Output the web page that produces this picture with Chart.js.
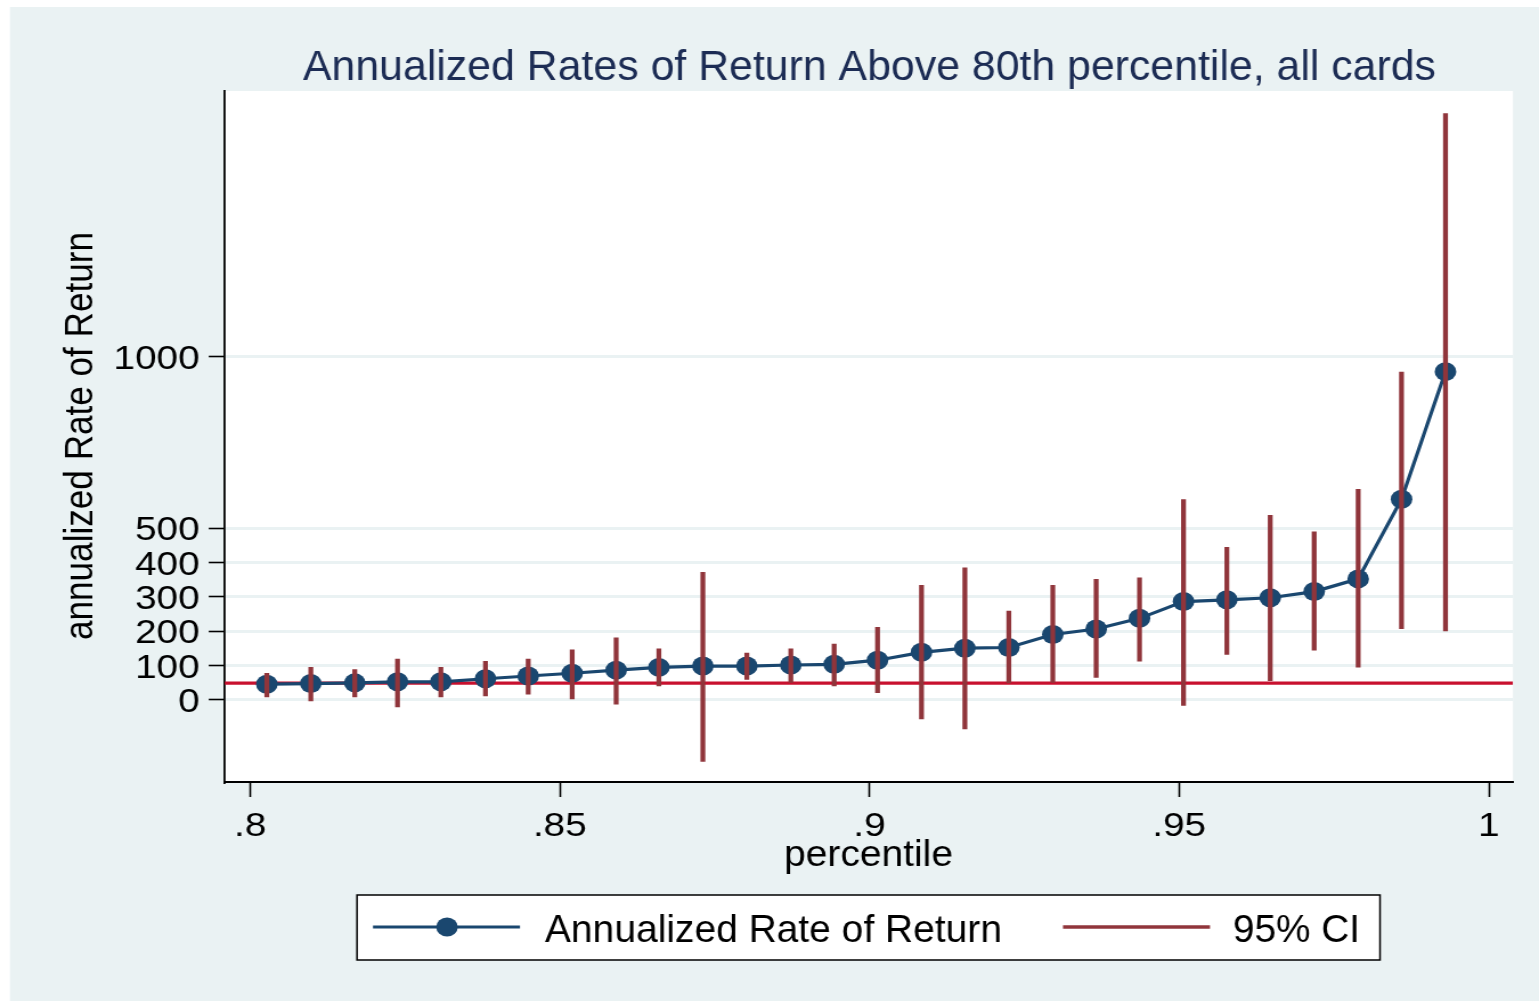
<!DOCTYPE html>
<html>
<head>
<meta charset="utf-8">
<script src="https://cdn.jsdelivr.net/npm/chart.js@4/dist/chart.umd.min.js"></script>
<style>
  html, body { margin: 0; padding: 0; background: #ffffff; overflow: hidden; }
  /* the drawing surface is laid out narrower and widened on screen */
  #chart { display: block; width: 1539px !important; height: 1001px !important; }
</style>
</head>
<body>
<canvas id="chart" width="1350" height="1001"></canvas>
<script>
// ---- data ----
const percentile = [0.8027, 0.8098, 0.8169, 0.8238, 0.8308, 0.8380, 0.8449, 0.8520, 0.8591, 0.8660,
                    0.8731, 0.8802, 0.8873, 0.8943, 0.9013, 0.9084, 0.9154, 0.9225, 0.9296, 0.9366,
                    0.9436, 0.9507, 0.9577, 0.9647, 0.9718, 0.9789, 0.9859, 0.9930];
const rateOfReturn = [45, 47, 49, 52, 52, 61, 69, 77, 86, 94,
                      98, 98, 101, 103, 115, 138, 150, 152, 190, 206,
                      237, 286, 291, 297, 315, 352, 584, 956];
const ciLower = [8, -4, 8, -21, 8, 11, 16, 2, -13, 40,
                 -180, 59, 50, 40, 20, -56, -85, 49, 50, 65,
                 112, -17, 132, 55, 144, 95, 207, 200];
const ciUpper = [77, 94, 88, 118, 94, 112, 118, 145, 180, 148,
                 371, 136, 148, 162, 211, 333, 384, 258, 333, 351,
                 355, 583, 444, 537, 489, 613, 955, 1708];
const referenceLevel = 48;
const xTickValues = [0.8, 0.85, 0.9, 0.95, 1];
const yTickValues = [0, 100, 200, 300, 400, 500, 1000];
const xRange = [0.7959, 1.0039];
const yRange = [-240, 1774];

const titleText = 'Annualized Rates of Return Above 80th percentile, all cards';
const xTitle = 'percentile';
const yTitle = 'annualized Rate of Return';
const legendLabels = ['Annualized Rate of Return', '95% CI'];

// ---- style ----
const FONT = '"Liberation Sans", Arial, Helvetica, sans-serif';
const BG = 'rgb(234,242,243)';
const GRID = 'rgb(234,242,243)';
const NAVY = 'rgb(26,71,111)';
const MAROON = 'rgb(144,53,59)';
const RED = 'rgb(200,16,46)';
const TITLE_COLOR = 'rgb(28,44,84)';
const MARKER_R = 9.5;

const canvas = document.getElementById('chart');
const K = 1539 / canvas.width;        // horizontal widening on screen
const sx = v => v / K;                // screen x -> drawing x

// text fitted to a given on-screen width
function fittedText(ctx, text, leftScreen, widthScreen, baseline, size, color) {
  ctx.save();
  ctx.font = size + 'px ' + FONT;
  ctx.fillStyle = color;
  ctx.textBaseline = 'alphabetic';
  ctx.textAlign = 'left';
  const w = ctx.measureText(text).width;
  const target = sx(widthScreen);
  ctx.translate(sx(leftScreen), baseline);
  ctx.scale(target / w, 1);
  ctx.fillText(text, 0, 0);
  ctx.restore();
}

const decorPlugin = {
  id: 'decor',
  beforeDraw(chart) {
    const ctx = chart.ctx;
    const a = chart.chartArea;
    ctx.save();
    ctx.fillStyle = '#ffffff';
    ctx.fillRect(0, 0, chart.width, chart.height);
    ctx.fillStyle = BG;
    ctx.fillRect(sx(10), 7, chart.width - sx(10), chart.height - 7);
    ctx.fillStyle = '#ffffff';
    ctx.fillRect(a.left, a.top, a.right - a.left, a.bottom - a.top);
    ctx.restore();
  },
  afterDraw(chart) {
    const ctx = chart.ctx;
    // title
    fittedText(ctx, titleText, 303, 1133, 80, 43, TITLE_COLOR);
    // x axis title
    fittedText(ctx, xTitle, 784, 169, 866, 37, '#000');
    // y axis title (vertical)
    ctx.save();
    ctx.font = '35px ' + FONT;
    ctx.fillStyle = '#000';
    const w = ctx.measureText(yTitle).width;
    ctx.translate(sx(92), 436);
    ctx.rotate(-Math.PI / 2);
    ctx.scale(408 / w, 1);
    ctx.textAlign = 'center';
    ctx.textBaseline = 'alphabetic';
    ctx.fillText(yTitle, 0, 0);
    ctx.restore();

    // legend box
    ctx.save();
    ctx.fillStyle = '#ffffff';
    ctx.fillRect(sx(357), 895, sx(1380) - sx(357), 65);
    ctx.strokeStyle = '#000';
    ctx.lineWidth = 1.5;
    ctx.strokeRect(sx(357), 895, sx(1380) - sx(357), 65);
    // series sample
    ctx.strokeStyle = NAVY;
    ctx.lineWidth = 3;
    ctx.beginPath();
    ctx.moveTo(sx(373), 927);
    ctx.lineTo(sx(520), 927);
    ctx.stroke();
    ctx.fillStyle = NAVY;
    ctx.beginPath();
    ctx.arc(sx(447), 927, MARKER_R, 0, Math.PI * 2);
    ctx.fill();
    // CI sample
    ctx.strokeStyle = MAROON;
    ctx.lineWidth = 3.5;
    ctx.beginPath();
    ctx.moveTo(sx(1063), 927);
    ctx.lineTo(sx(1210), 927);
    ctx.stroke();
    ctx.restore();
    fittedText(ctx, legendLabels[0], 545, 457, 942, 39, '#000');
    fittedText(ctx, legendLabels[1], 1233, 127, 942, 39, '#000');
  }
};

const fmtTick = v => String(v).replace(/^0\./, '.');

new Chart(canvas, {
  data: {
    datasets: [
      {
        type: 'bar',
        label: legendLabels[1],
        data: percentile.map((p, i) => ({ x: p, y: [ciLower[i], ciUpper[i]] })),
        backgroundColor: MAROON,
        borderWidth: 0,
        barThickness: 3.6,
        grouped: false,
        order: 0
      },
      {
        type: 'line',
        label: legendLabels[0],
        data: percentile.map((p, i) => ({ x: p, y: rateOfReturn[i] })),
        borderColor: NAVY,
        borderWidth: 3.2,
        pointRadius: MARKER_R,
        pointBackgroundColor: NAVY,
        pointBorderWidth: 0,
        tension: 0,
        order: 1
      },
      {
        type: 'line',
        label: 'reference',
        data: [{ x: xRange[0], y: referenceLevel }, { x: xRange[1], y: referenceLevel }],
        borderColor: RED,
        borderWidth: 3.2,
        pointRadius: 0,
        order: 2
      }
    ]
  },
  options: {
    responsive: false,
    animation: false,
    devicePixelRatio: 1,
    events: [],
    layout: { padding: { left: 0, right: canvas.width - sx(1513), top: 91, bottom: 0 } },
    plugins: { legend: { display: false }, tooltip: { enabled: false }, title: { display: false } },
    scales: {
      x: {
        type: 'linear',
        min: xRange[0],
        max: xRange[1],
        offset: false,
        afterFit(scale) { scale.height = 1001 - 782; },
        afterBuildTicks(scale) { scale.ticks = xTickValues.map(v => ({ value: v })); },
        grid: { offset: false, drawOnChartArea: false, drawTicks: true, tickLength: 15, tickColor: '#000', tickWidth: 1.6 },
        border: { display: true, color: '#000', width: 2 },
        ticks: {
          autoSkip: false, maxRotation: 0, minRotation: 0,
          font: { family: FONT, size: 34 }, color: '#000', padding: 9,
          callback: v => fmtTick(v)
        }
      },
      y: {
        type: 'linear',
        min: yRange[0],
        max: yRange[1],
        afterFit(scale) { scale.width = sx(224.7); },
        afterBuildTicks(scale) { scale.ticks = yTickValues.map(v => ({ value: v })); },
        grid: { color: GRID, lineWidth: 3, drawTicks: true, tickLength: 14, tickColor: '#000', tickWidth: 1.6 },
        border: { display: true, color: '#000', width: 1.8 },
        ticks: {
          autoSkip: false,
          font: { family: FONT, size: 34 }, color: '#000', padding: 8, labelOffset: 3,
          callback: v => String(v)
        }
      }
    }
  },
  plugins: [decorPlugin]
});
</script>
</body>
</html>
